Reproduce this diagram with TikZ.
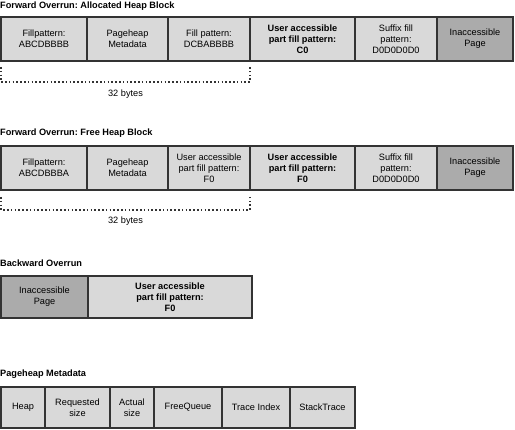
\documentclass[tikz,border=0pt]{standalone}
\usepackage{fontspec}
\setmainfont{Liberation Sans}
\usepackage{tikz}
\usetikzlibrary{positioning,calc}

\definecolor{cellfill}{HTML}{D9D9D9}
\definecolor{pagefill}{HTML}{ABABAB}
\definecolor{cellline}{HTML}{333333}
\frenchspacing

\begin{document}
\begin{tikzpicture}[x=1pt,y=-1pt,
cell/.style={draw=cellline,line width=2.2pt,fill=cellfill,outer sep=0pt,inner sep=0pt,align=center,minimum height=44pt,font=\fontsize{9.2}{10.8}\selectfont},
page/.style={cell,fill=pagefill},
hdr/.style={anchor=west,inner sep=0pt,font=\bfseries\fontsize{9.2}{10}\selectfont},
span/.style={line width=1.6pt,dash pattern=on 1.6pt off 2.2pt,cellline},
bytes/.style={font=\fontsize{9.2}{10}\selectfont}]
\useasboundingbox (0,0) rectangle (515,430);
% forward overrun, allocated block
\node[hdr] (t1) at (0,6) {Forward Overrun: Allocated Heap Block};
\node[cell,minimum width=86pt,anchor=north west] (a1) at (1,17) {Fillpattern:\\ABCDBBBB};
\node[cell,minimum width=81pt,right=0pt of a1] (a2) {Pageheap\\Metadata};
\node[cell,minimum width=82pt,right=0pt of a2] (a3) {Fill pattern:\\DCBABBBB};
\node[cell,minimum width=105pt,right=0pt of a3] (a4) {\bfseries User accessible\\\bfseries part fill pattern:\\\bfseries C0};
\node[cell,minimum width=82pt,right=0pt of a4] (a5) {Suffix fill\\pattern:\\D0D0D0D0};
\node[page,minimum width=76pt,right=0pt of a5] (a6) {Inaccessible\\Page};
\draw[span] ([yshift=-6]a1.south west) -- ([yshift=-21]a1.south west) -- ([yshift=-21]a3.south east) -- ([yshift=-6]a3.south east);
\node[bytes] (b1) at ($([yshift=-33]a1.south west)!0.5!([yshift=-33]a3.south east)$) {32 bytes};
% forward overrun, free block
\node[hdr] (t2) at (0,133) {Forward Overrun: Free Heap Block};
\node[cell,minimum width=86pt,anchor=north west] (f1) at (1,146) {Fillpattern:\\ABCDBBBA};
\node[cell,minimum width=81pt,right=0pt of f1] (f2) {Pageheap\\Metadata};
\node[cell,minimum width=82pt,right=0pt of f2] (f3) {User accessible\\part fill pattern:\\F0};
\node[cell,minimum width=105pt,right=0pt of f3] (f4) {\bfseries User accessible\\\bfseries part fill pattern:\\\bfseries F0};
\node[cell,minimum width=82pt,right=0pt of f4] (f5) {Suffix fill\\pattern:\\D0D0D0D0};
\node[page,minimum width=76pt,right=0pt of f5] (f6) {Inaccessible\\Page};
\draw[span] ([yshift=-7]f1.south west) -- ([yshift=-20]f1.south west) -- ([yshift=-20]f3.south east) -- ([yshift=-7]f3.south east);
\node[bytes] (b2) at ($([yshift=-31]f1.south west)!0.5!([yshift=-31]f3.south east)$) {32 bytes};
% backward overrun
\node[hdr] (t3) at (0,263) {Backward Overrun};
\node[page,minimum width=87pt,minimum height=42pt,anchor=north west] (k1) at (1,276) {Inaccessible\\Page};
\node[cell,minimum width=164pt,minimum height=42pt,right=0pt of k1] (k2) {\bfseries User accessible\\\bfseries part fill pattern:\\\bfseries F0};
% metadata fields
\node[hdr] (t4) at (0,374) {Pageheap Metadata};
\node[cell,minimum width=44pt,minimum height=41pt,anchor=north west] (m1) at (1,387) {Heap};
\node[cell,minimum width=65pt,minimum height=41pt,right=0pt of m1] (m2) {Requested\\size};
\node[cell,minimum width=44pt,minimum height=41pt,right=0pt of m2] (m3) {Actual\\size};
\node[cell,minimum width=68pt,minimum height=41pt,right=0pt of m3] (m4) {FreeQueue};
\node[cell,minimum width=68pt,minimum height=41pt,right=0pt of m4] (m5) {Trace Index};
\node[cell,minimum width=65pt,minimum height=41pt,right=0pt of m5] (m6) {StackTrace};
\end{tikzpicture}
\end{document}
